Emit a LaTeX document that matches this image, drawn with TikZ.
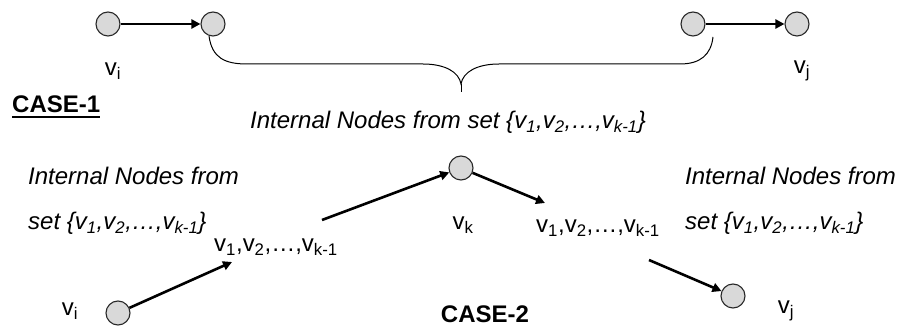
\documentclass[tikz,border=0pt]{standalone}
\usepackage{fontspec}
\setmainfont{Liberation Sans}
\usetikzlibrary{arrows.meta}
\definecolor{nodefill}{RGB}{217,217,217}
\definecolor{nodeline}{RGB}{40,40,40}
\newcommand{\sbs}[1]{\textsubscript{#1}}
\begin{document}
\begin{tikzpicture}[x=1pt,y=-1pt,
  vertex/.style={circle,draw=nodeline,fill=nodefill,line width=1.1pt,minimum size=24pt,inner sep=0pt},
  lbl/.style={inner sep=0pt,font=\fontsize{24}{28}\selectfont},
  arr/.style={line width=2.6pt,-{Triangle[length=9pt,width=9pt]}},
  brace/.style={line width=1pt}]
\useasboundingbox (0,0) rectangle (898,328);

% ---------- case 1 ----------
\node[vertex] (t1) at (108,24) {};
\node[vertex] (t2) at (213,24) {};
\node[vertex] (t3) at (693,24) {};
\node[vertex] (t4) at (797,24) {};
\draw[arr] (t1) -- (t2);
\draw[arr] (t3) -- (t4);
\node[lbl,anchor=base] (lvi) at (113,76) {v\sbs{i}};
\node[lbl,anchor=base] (lvj) at (802,74) {v\sbs{j}};

% brace joining the two inner ends
\coordinate (bl) at (209,36);
\coordinate (br) at (713,37);
\coordinate (btip) at (461,84);
\coordinate (bend) at (461,92);
\draw[brace] (bl) .. controls (212,58) and (225,64) .. (247,64) -- (423,64)
  .. controls (445,64) and (459,72) .. (btip)
  .. controls (463,72) and (477,64) .. (499,64) -- (680,64)
  .. controls (700,64) and (711,55) .. (br);
\draw[brace] (btip) -- (bend);

\node[lbl,anchor=base west,font=\fontsize{24}{28}\selectfont\bfseries] (c1) at (12,113) {CASE-1};
\draw[line width=2pt] ([yshift=-4pt]c1.base west) -- ([yshift=-4pt]c1.base east);
\node[lbl,anchor=base,font=\fontsize{24}{28}\selectfont\itshape] (mid) at (448,129)
  {Internal Nodes from set \{v\sbs{1},v\sbs{2},…,v\sbs{k-1}\}};

% ---------- case 2 ----------
\node[lbl,anchor=base west,font=\fontsize{24}{28}\selectfont\itshape] (la) at (28,185) {Internal Nodes from};
\node[lbl,anchor=base west,font=\fontsize{24}{28}\selectfont\itshape] (lb) at (28,230) {set \{v\sbs{1},v\sbs{2},…,v\sbs{k-1}\}};
\node[lbl,anchor=base west,font=\fontsize{24}{28}\selectfont\itshape] (ra) at (685,185) {Internal Nodes from};
\node[lbl,anchor=base west,font=\fontsize{24}{28}\selectfont\itshape] (rb) at (685,230) {set \{v\sbs{1},v\sbs{2},…,v\sbs{k-1}\}};

\node[vertex] (vi) at (118,313) {};
\node[vertex] (vk) at (461,168) {};
\node[vertex] (vj) at (733,296) {};
\node[lbl,anchor=base] (lvi2) at (70,316) {v\sbs{i}};
\node[lbl,anchor=base] (lvk) at (463,230) {v\sbs{k}};
\node[lbl,anchor=base] (lvj2) at (786,314) {v\sbs{j}};
\node[lbl,anchor=base] (sl) at (276,252) {v\sbs{1},v\sbs{2},…,v\sbs{k-1}};
\node[lbl,anchor=base] (sr) at (598,233) {v\sbs{1},v\sbs{2},…,v\sbs{k-1}};

\coordinate (p1) at (232,262);
\coordinate (p2) at (322,220);
\coordinate (p3) at (545,203);
\coordinate (p4) at (649,260);
\draw[arr] (vi) -- (p1);
\draw[arr] (p2) -- (vk);
\draw[arr] (vk) -- (p3);
\draw[arr] (p4) -- (vj);

\node[lbl,anchor=base,font=\fontsize{24}{28}\selectfont\bfseries] (c2) at (485,323) {CASE-2};
\end{tikzpicture}
\end{document}
